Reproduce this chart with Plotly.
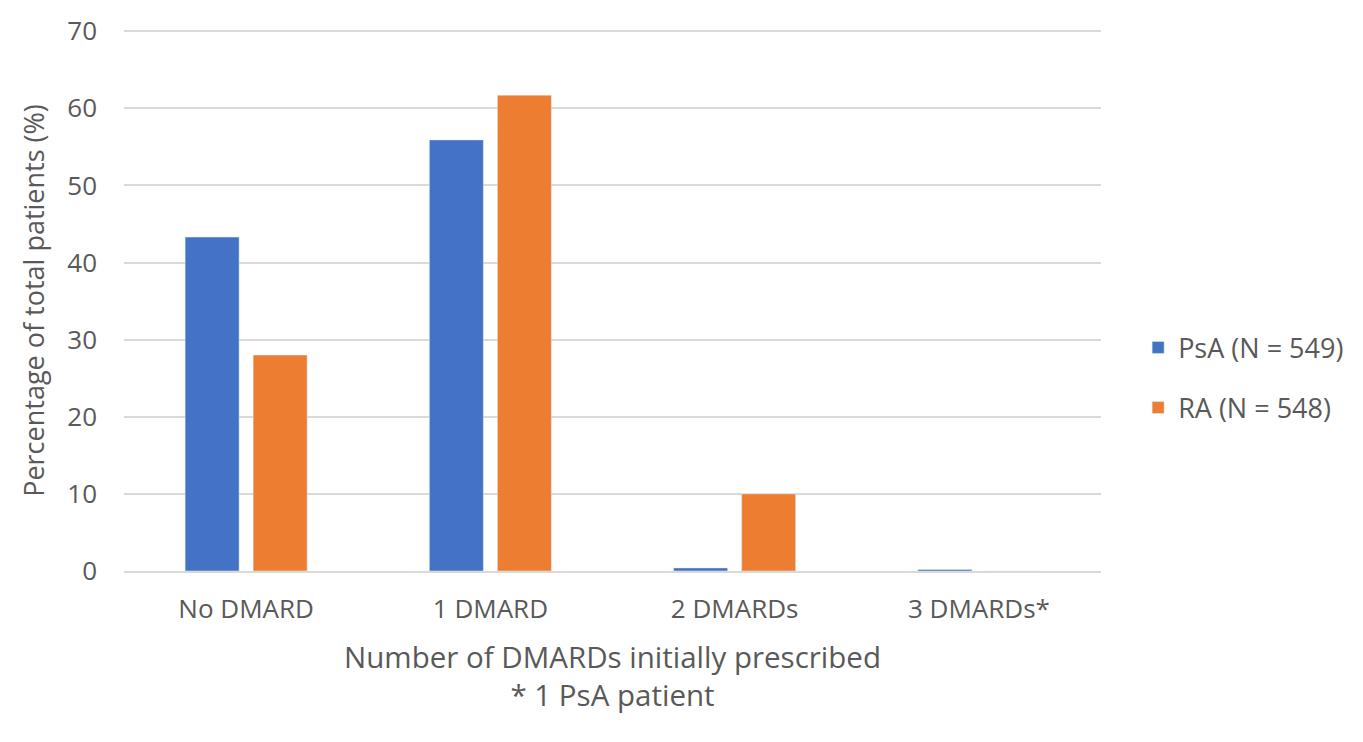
import plotly.graph_objects as go

categories = ["No DMARD", "1 DMARD", "2 DMARDs", "3 DMARDs*"]
psa_values = [43.3, 55.9, 0.4, 0.2]
ra_values = [28.0, 61.7, 10.0, 0.0]
series_names = ["PsA (N = 549)", "RA (N = 548)"]
y_ticks = [0, 10, 20, 30, 40, 50, 60, 70]

font_family = "Open Sans"
gray = "#595959"

fig = go.Figure()
fig.add_trace(go.Bar(x=categories, y=psa_values, name=series_names[0], marker_color="#4472C4",
                     legendgroup="a"))
fig.add_trace(go.Bar(x=categories, y=ra_values, name=series_names[1], marker_color="#ED7D31",
                     legendgroup="b"))

fig.update_layout(
    width=1363, height=742,
    margin=dict(l=116, r=270, t=22, b=179),
    plot_bgcolor="white", paper_bgcolor="white",
    barmode="group", bargap=0.443, bargroupgap=0.206,
    font=dict(family=font_family, color=gray, size=26),
    legend=dict(x=1.038, y=0.357, xanchor="left", yanchor="middle",
                font=dict(size=27, color=gray), itemwidth=30, tracegroupgap=22),
    xaxis=dict(
        title=dict(text="Number of DMARDs initially prescribed<br>* 1 PsA patient",
                   font=dict(size=29.5, color=gray), standoff=22),
        showline=True, linecolor="#d9d9d9", linewidth=2, automargin=False,
        tickfont=dict(size=26, color=gray), ticks="", ticklabelstandoff=14,
    ),
    yaxis=dict(
        title=dict(text="Percentage of total patients (%)", font=dict(size=27, color=gray), standoff=14),
        range=[0, 70.15], tickvals=y_ticks, showgrid=True, gridcolor="#d9d9d9", gridwidth=2,
        automargin=False,
        zeroline=False, tickfont=dict(size=26, color=gray), ticks="", ticklabelstandoff=26,
    ),
)

fig.write_html("out.html")
